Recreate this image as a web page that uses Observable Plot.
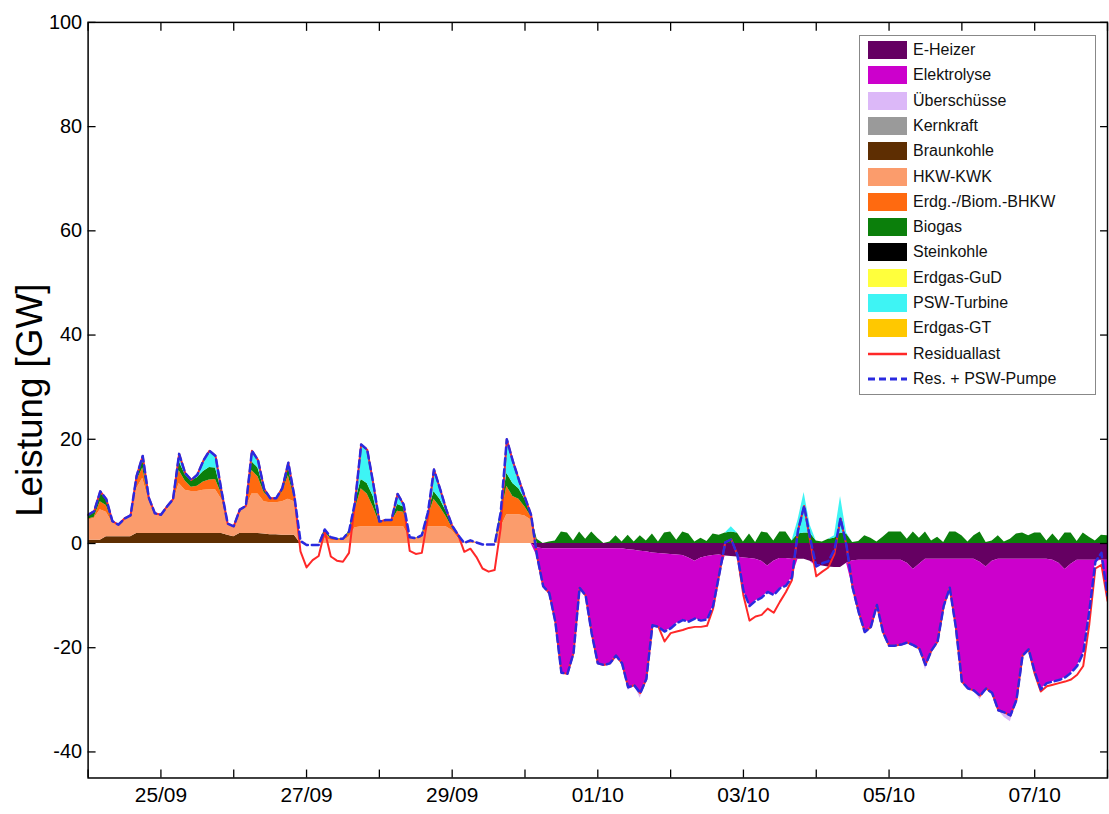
<!DOCTYPE html>
<html><head><meta charset="utf-8">
<script src="https://cdn.jsdelivr.net/npm/d3@7"></script>
<script src="https://cdn.jsdelivr.net/npm/@observablehq/plot@0.6"></script>
<style>
html,body{margin:0;padding:0;background:#fff;overflow:hidden;}
#wrap{position:relative;width:1109px;height:814px;overflow:hidden;font-family:"Liberation Sans",Arial,sans-serif;}
#wrap > svg{position:absolute;left:0;top:0;}
#legend{position:absolute;left:859px;top:35px;width:237px;height:360px;border:1.5px solid #888;background:#fff;box-sizing:border-box;z-index:2;}
.row{position:absolute;left:8px;height:18px;display:flex;align-items:center;}
.sw{width:39px;height:18px;margin-right:6px;flex:none;display:block;}
.lbl{font-size:16px;color:#111;white-space:nowrap;}
</style></head><body><div id="wrap"><div id="legend"></div></div>
<script>
// ---- data: 2-hour steps from 24/09 00:00 to 08/10 00:00 (169 values), GW ----
const braunkohle = [
0.6,0.6,0.6,1.3,1.3,1.3,1.3,1.3,1.9,1.9,1.9,1.9,
1.9,1.9,1.9,1.9,1.9,1.9,1.9,1.9,1.9,1.9,1.9,1.6,
1.3,1.9,1.9,1.9,1.9,1.8,1.7,1.7,1.6,1.6,1.6,0,
0,0,0,0,0,0,0,0,0,0,0,0,
0,0,0,0,0,0,0,0,0,0,0,0,
0,0,0,0,0,0,0,0,0,0,0,0,
0,0,0,0,0,0,0,0,0,0,0,0,
0,0,0,0,0,0,0,0,0,0,0,0,
0,0,0,0,0,0,0,0,0,0,0,0,
0,0,0,0,0,0,0,0,0,0,0,0,
0,0,0,0,0,0,0,0,0,0,0,0,
0,0,0,0,0,0,0,0,0,0,0,0,
0,0,0,0,0,0,0,0,0,0,0,0,
0,0,0,0,0,0,0,0,0,0,0,0,
0];
const hkwKwk = [
3.9,4.2,5.9,4.7,2.7,2.2,3.3,3.9,8.6,10.6,6.3,3.8,
3.4,4.9,5.9,9.6,8.3,8.1,8.1,8.3,8.4,8.4,6.6,2.1,
1.8,4.1,4.9,7.6,7.6,6.2,6.1,6.1,6.4,6.9,6.4,0.5,
0,0,0,1.0,0.6,0.5,0.5,1.2,3.0,3.2,3.2,3.2,
3.2,3.2,3.2,3.2,3.2,1.0,0.8,1.0,3.2,3.2,3.2,3.2,
2.5,1.0,0.1,0.4,0.2,0,0,0,3.0,5.5,5.5,5.5,
5.3,4.5,0,0,0,0,0,0,0,0,0,0,
0,0,0,0,0,0,0,0,0,0,0,0,
0,0,0,0,0,0,0,0,0,0,0,0,
0,0,0,0,0,0,0,0,0,0,0,0,
0,0,0,0,0,0,0,0,0,0,0,0,
0,0,0,0,0,0,0,0,0,0,0,0,
0,0,0,0,0,0,0,0,0,0,0,0,
0,0,0,0,0,0,0,0,0,0,0,0,
0];
const bhkw = [
0.2,0.2,1.5,1.3,0.2,0.1,0.2,0.2,1.5,2.0,0.4,0.1,
0.1,0.2,0.4,2.5,1.8,0.8,1.0,1.6,1.9,2.0,1.0,0.1,
0.1,0.2,0.2,4.5,3.3,1.8,0.8,0.8,1.8,4.5,0.7,0,
0,0,0,1.0,0.4,0.3,0.3,0.8,3.5,7.3,6.3,3.8,
0.8,1.0,1.0,3.0,2.8,0.2,0.2,0.4,1.8,5.3,3.8,2.0,
0.5,0.4,0,0.2,0,0,0,0,2.0,5.5,3.5,3.0,
1.7,0.7,0,0,0,0,0,0,0,0,0,0,
0,0,0,0,0,0,0,0,0,0,0,0,
0,0,0,0,0,0,0,0,0,0,0,0,
0,0,0,0,0,0,0,0,0,0,0,0,
0,0,0,0,0,0,0,0,0,0,0,0,
0,0,0,0,0,0,0,0,0,0,0,0,
0,0,0,0,0,0,0,0,0,0,0,0,
0,0,0,0,0,0,0,0,0,0,0,0,
0];
const biogas = [
0.8,1.2,1.8,1.2,0.1,0,0,0,0.8,1.7,0.2,0,
0.1,0.1,0.3,1.8,1.2,1.2,1.6,2.0,2.4,2.2,0.5,0,
0.1,0.3,0.2,1.7,1.7,0.7,0.1,0.1,0.8,1.8,0.3,0,
0,0,0,0.7,0.2,0.1,0.1,0.3,1.3,1.8,2.0,2.0,
0.2,0.3,0.3,1.3,1.0,0,0,0.2,0.8,1.5,1.5,1.0,
0.4,0.2,0,0,0,0,0,0,1.0,2.5,2.5,2.0,
1.5,0.3,0.8,0,0.3,0.5,2.2,2.0,0.5,2.2,0.8,2.2,
1.0,0,0.3,1.5,0.3,1.6,0.3,1.5,0.5,1.8,0.3,2.0,
2.2,0.6,2.2,1.8,0.3,1.0,0.4,1.8,1.6,2.0,2.2,2.0,
0.3,1.8,0.2,2.2,2.0,0.5,2.2,2.2,0.5,1.8,2.0,2.0,
0.5,0.3,0.8,1.0,2.0,1.8,0.2,0.4,1.5,1.0,0.3,1.2,
2.2,2.2,2.2,0.8,2.2,1.0,2.2,0.5,1.2,0.2,2.2,2.2,
1.5,0.3,1.5,2.2,0.2,0.5,1.5,0.3,0.8,1.8,2.0,1.5,
2.0,2.0,0.5,1.8,0.5,2.0,2.0,0.4,2.0,1.2,0.5,1.6,
1.5];
const pswTurbine = [
0,0,0.2,0,0,0,0,0,0.2,0.6,0,0,
0,0,0,1.4,0.3,0.2,0.6,2.1,3.2,2.3,0,0,
0,0,0,2.1,1.5,0,0,0,0,0.7,0,0,
0,0,0,0,0,0,0,0,0.2,6.7,6.5,2.5,
0,0,0,2.0,0.5,0,0,0,0.2,4.2,2.0,0.4,
0,0,0,0,0,0,0,0,0,6.5,4.3,1.7,
0.3,0,0,0,0,0,0,0,0,0,0,0,
0,0,0,0,0,0,0,0,0,0,0,0,
0,0,0,0,0,0,0,0,0,0,1.0,0,
0,0,0,0,0,0,0,0,0,2.7,7.8,1.5,
0,0,0,0.5,7.0,0.2,0,0,0,0,0,0,
0,0,0,0,0,0,0,0,0,0,0,0,
0,0,0,0,0,0,0,0,0,0,0,0,
0,0,0,0,0,0,0,0,0,0,0,0,
0];
// consumers (drawn below zero)
const eHeizer = [
0,0,0,0,0,0,0,0,0,0,0,0,
0,0,0,0,0,0,0,0,0,0,0,0,
0,0,0,0,0,0,0,0,0,0,0,0,
0,0,0,0,0,0,0,0,0,0,0,0,
0,0,0,0,0,0,0,0,0,0,0,0,
0,0,0,0,0,0,0,0,0,0,0,0,
0,0,0.8,1.0,1.0,1.0,1.0,1.0,1.0,1.0,1.0,1.0,
1.0,1.0,1.0,1.0,1.0,1.2,1.3,1.5,1.6,1.8,1.9,2.0,
2.1,2.2,2.3,2.8,3.4,2.8,2.5,2.3,2.2,2.4,2.5,2.6,
2.8,2.9,3.0,3.4,4.3,3.4,2.9,2.9,3.0,3.0,3.0,3.4,
4.0,4.3,4.5,4.6,4.6,3.8,3.3,3.2,3.2,3.2,3.2,3.2,
3.2,3.2,3.2,3.8,5.0,4.0,3.0,3.0,3.0,3.0,3.0,3.0,
3.0,3.0,3.0,3.6,4.5,3.4,3.0,3.0,3.0,3.0,3.0,3.0,
3.0,3.0,3.0,3.2,3.8,5.0,4.0,3.2,3.2,3.2,3.2,3.2,
3.2];
const elektrolyse = [
0,0,0,0,0,0,0,0,0,0,0,0,
0,0,0,0,0,0,0,0,0,0,0,0,
0,0,0,0,0,0,0,0,0,0,0,0,
0,0,0,0,0,0,0,0,0,0,0,0,
0,0,0,0,0,0,0,0,0,0,0,0,
0,0,0,0,0,0,0,0,0,0,0,0,
0,0,1.7,7.2,8.5,14.0,23.8,24.0,20.0,7.5,9.0,16.3,
22.0,22.3,22.0,20.5,22.0,26.4,25.9,27.2,24.4,13.9,14.1,14.9,
14.2,13.1,12.4,12.2,11.0,12.0,12.1,9.7,3.8,0,0,0,
6.2,9.1,8.0,7.0,5.0,6.5,5.7,5.2,3.5,0,0,0,
0.4,0,0,0,0,0,5.2,10.0,13.8,12.8,8.6,13.8,
16.4,16.4,16.2,15.2,14.5,16.2,20.3,17.5,15.8,9.0,5.5,13.0,
23.5,24.8,25.2,25.6,23.3,25.3,29.0,29.4,30.0,27.0,18.5,17.3,
21.6,25.0,23.8,23.3,22.4,20.7,20.8,20.3,17.8,9.8,0.3,0,
6.8];
const ueberschuesse = [
0,0,0,0,0,0,0,0,0,0,0,0,
0,0,0,0,0,0,0,0,0,0,0,0,
0,0,0,0,0,0,0,0,0,0,0,0,
0,0,0,0,0,0,0,0,0,0,0,0,
0,0,0,0,0,0,0,0,0,0,0,0,
0,0,0,0,0,0,0,0,0,0,0,0,
0,0,0,0,0,0,0,0,0,0,0,0,
0,0,0,0,0,0.6,0,1.0,0,0,0,0,
0,0,0,0,0,0,0,0,0,0,0,0,
0,0,0,0,0,0,0,0,0,0,0,0,
0,0,0,0,0,0,0,0,0,0,0,0,
0,0,0,0,0,0,1.0,0,0,0,0,0,
0,0,0,0.8,0,0,0,1.0,1.2,0,0,0,
0,0,0,0,0,0,0,0,0,0,0,0,
0];
const residuallast = [
5.5,6.2,10.0,8.5,4.3,3.6,4.8,5.4,13.0,16.8,8.8,5.8,
5.5,7.1,8.5,17.2,13.5,12.2,13.2,15.9,17.8,16.8,10.0,3.8,
3.3,6.5,7.2,17.8,16.0,10.5,8.7,8.7,10.6,15.5,9.0,-1.5,
-4.6,-3.2,-2.4,2.4,-2.5,-3.3,-3.5,-1.8,8.0,19.0,18.0,11.5,
4.2,4.5,4.5,9.5,7.5,-1.4,-2.0,-1.8,5.0,14.2,10.5,6.6,
3.4,1.6,-1.6,-1.0,-2.6,-4.8,-5.4,-5.1,3.0,20.0,15.8,12.2,
8.8,5.5,-2.5,-8.2,-9.5,-15.0,-24.8,-25.0,-21.0,-8.5,-10.0,-17.3,
-23.0,-23.3,-23.0,-21.5,-23.0,-27.6,-27.2,-28.7,-26.0,-15.7,-16.0,-18.8,
-17.2,-16.9,-16.6,-16.2,-16.0,-16.0,-15.8,-12.5,-6.0,0.2,0.8,-2.2,
-10.0,-14.8,-14.0,-13.7,-12.5,-13.3,-11.2,-9.3,-7.0,2.5,7.2,0.5,
-6.3,-5.4,-4.6,-2.0,4.8,-0.5,-8.5,-13.2,-17.0,-16.0,-11.8,-17.0,
-19.6,-19.6,-19.4,-19.0,-19.5,-20.2,-23.3,-20.5,-18.8,-12.0,-8.5,-16.0,
-26.5,-27.8,-28.2,-29.2,-27.8,-28.7,-32.0,-32.4,-33.0,-30.0,-21.5,-20.3,
-25.0,-28.4,-27.4,-27.1,-26.8,-26.5,-26.1,-25.2,-23.5,-15.5,-4.8,-4.1,
-11.0];
const resPswPumpe = [
5.5,6.2,10.0,8.5,4.3,3.6,4.8,5.4,13.0,16.8,8.8,5.8,
5.5,7.1,8.5,17.2,13.5,12.2,13.2,15.9,17.8,16.8,10.0,3.8,
3.3,6.5,7.2,17.8,16.0,10.5,8.7,8.7,10.6,15.5,9.0,0.5,
-0.3,-0.3,-0.3,2.7,1.2,0.9,0.9,2.3,8.0,19.0,18.0,11.5,
4.2,4.5,4.5,9.5,7.5,1.2,1.0,1.6,6.0,14.2,10.5,6.6,
3.4,1.6,0.1,0.6,0.2,-0.2,-0.2,-0.2,6.0,20.0,15.8,12.2,
8.8,5.5,-2.5,-8.2,-9.5,-15.0,-24.8,-25.0,-21.0,-8.5,-10.0,-17.3,
-23.0,-23.3,-23.0,-21.5,-23.0,-27.6,-27.2,-28.7,-26.0,-15.7,-16.0,-16.9,
-16.3,-15.3,-14.7,-15.0,-14.4,-14.8,-14.6,-12.0,-6.0,0.2,0.8,-2.2,
-9.0,-12.0,-11.0,-10.4,-9.3,-9.9,-8.6,-8.1,-6.5,2.5,7.2,1.0,
-4.4,-3.8,-3.4,-1.2,4.8,-0.5,-8.5,-13.2,-17.0,-16.0,-11.8,-17.0,
-19.6,-19.6,-19.4,-19.0,-19.5,-20.2,-23.3,-20.5,-18.8,-12.0,-8.5,-16.0,
-26.5,-27.8,-28.2,-29.2,-27.8,-28.7,-32.0,-32.4,-33.0,-30.0,-21.5,-20.3,
-24.6,-28.0,-26.8,-26.5,-26.2,-25.7,-24.8,-23.5,-21.0,-13.0,-3.5,-1.8,
-10.0];

const legendNames = ["E-Heizer","Elektrolyse","Überschüsse","Kernkraft","Braunkohle","HKW-KWK","Erdg.-/Biom.-BHKW","Biogas","Steinkohle","Erdgas-GuD","PSW-Turbine","Erdgas-GT","Residuallast","Res. + PSW-Pumpe"];
const legendColors = ["#650062","#cc00cc","#dcb8f8","#9a9a9a","#5e2e02","#fb9c6c","#ff6a10","#0b7f0b","#000000","#ffff3c","#3ef4f4","#ffc800","#ff2828","#2a2ae0"];
const xTickLabels = ["25/09","27/09","29/09","01/10","03/10","05/10","07/10"];
const yTicks = [-40,-20,0,20,40,60,80,100];

// ---- build ----
const YEAR = 2015;
const start = Date.UTC(YEAR, 8, 24);
const dates = braunkohle.map((_, i) => new Date(start + i * 2 * 3600e3));
const colorOf = Object.fromEntries(legendNames.map((n, i) => [n, legendColors[i]]));
const layers = [
  ["Braunkohle", braunkohle, 1],
  ["HKW-KWK", hkwKwk, 1],
  ["Erdg.-/Biom.-BHKW", bhkw, 1],
  ["Biogas", biogas, 1],
  ["PSW-Turbine", pswTurbine, 1],
  ["E-Heizer", eHeizer, -1],
  ["Elektrolyse", elektrolyse, -1],
  ["Überschüsse", ueberschuesse, -1]
];
const stackOrder = layers.map(l => l[0]);
// consumers keep a vanishing negative sign at zero so they stay in the downward stack
const rows = layers.flatMap(([s, arr, sign]) => arr.map((v, i) => ({date: dates[i], series: s, value: sign > 0 ? v : -Math.max(v, 1e-9)})));
const parseLbl = s => { const [d, m] = s.split("/").map(Number); return new Date(Date.UTC(YEAR, m - 1, d)); };
const labelDates = xTickLabels.map(parseLbl);
const dayTicks = d3.utcDay.range(new Date(start), new Date(start + 15 * 864e5));
const fmt = d => { const k = labelDates.findIndex(t => +t === +d); return k < 0 ? "" : xTickLabels[k]; };
const font = '"Liberation Sans", Arial, sans-serif';

const chart = Plot.plot({
  width: 1114, height: 814,
  marginLeft: 88, marginRight: 2, marginTop: 22, marginBottom: 33,
  style: {fontFamily: font, background: "transparent", color: "#000"},
  x: {type: "utc", domain: [new Date(start), new Date(start + 14 * 864e5)]},
  y: {domain: [-45, 100]},
  color: {domain: stackOrder, range: stackOrder.map(n => colorOf[n])},
  marks: [
    Plot.areaY(rows, {x: "date", y: "value", z: "series", fill: "series", order: stackOrder, clip: true}),
    Plot.lineY(residuallast, {x: (d, i) => dates[i], y: d => d, stroke: colorOf["Residuallast"], strokeWidth: 2, clip: true}),
    Plot.lineY(resPswPumpe, {x: (d, i) => dates[i], y: d => d, stroke: colorOf["Res. + PSW-Pumpe"], strokeWidth: 2.5, strokeDasharray: "7,4", clip: true}),
    Plot.frame({stroke: "#000", strokeWidth: 1.5}),
    Plot.axisX({anchor: "bottom", ticks: dayTicks, tickSize: -8, tickFormat: () => "", label: null, strokeWidth: 1.3}),
    Plot.axisX({anchor: "top", ticks: dayTicks, tickSize: -8, tickFormat: () => "", label: null, strokeWidth: 1.3}),
    Plot.axisX({anchor: "bottom", ticks: labelDates, tickSize: 0, tickPadding: 9, tickFormat: fmt, fontSize: 21, label: null}),
    Plot.axisY({anchor: "left", ticks: yTicks, tickSize: -8, tickFormat: () => "", label: null, strokeWidth: 1.3}),
    Plot.axisY({anchor: "right", ticks: yTicks, tickSize: -8, tickFormat: () => "", label: null, strokeWidth: 1.3}),
    Plot.axisY({anchor: "left", ticks: yTicks, tickSize: 0, tickPadding: 6, tickFormat: d => String(d), fontSize: 20, label: null}),
    Plot.text(["Leistung [GW]"], {frameAnchor: "left", dx: -58, rotate: -90, fontSize: 37, textAnchor: "middle", fill: "#000"})
  ]
});
const wrap = document.getElementById("wrap");
wrap.insertBefore(chart, wrap.firstChild);

// ---- legend ----
const legend = document.getElementById("legend");
legendNames.forEach((n, k) => {
  const row = document.createElement("div");
  row.className = "row";
  row.style.top = (5 + k * 25.3) + "px";
  let sw;
  if (n === "Residuallast" || n === "Res. + PSW-Pumpe") {
    sw = document.createElementNS("http://www.w3.org/2000/svg", "svg");
    sw.setAttribute("class", "sw"); sw.setAttribute("width", 39); sw.setAttribute("height", 18);
    const ln = document.createElementNS("http://www.w3.org/2000/svg", "line");
    ln.setAttribute("x1", 0); ln.setAttribute("x2", 39); ln.setAttribute("y1", 9); ln.setAttribute("y2", 9);
    ln.setAttribute("stroke", colorOf[n]); ln.setAttribute("stroke-width", n === "Residuallast" ? 2.5 : 3);
    if (n !== "Residuallast") ln.setAttribute("stroke-dasharray", "7,4");
    sw.appendChild(ln);
  } else {
    sw = document.createElement("div");
    sw.className = "sw"; sw.style.background = colorOf[n];
  }
  const lb = document.createElement("span");
  lb.className = "lbl"; lb.textContent = n;
  row.appendChild(sw); row.appendChild(lb);
  legend.appendChild(row);
});
</script></body></html>
